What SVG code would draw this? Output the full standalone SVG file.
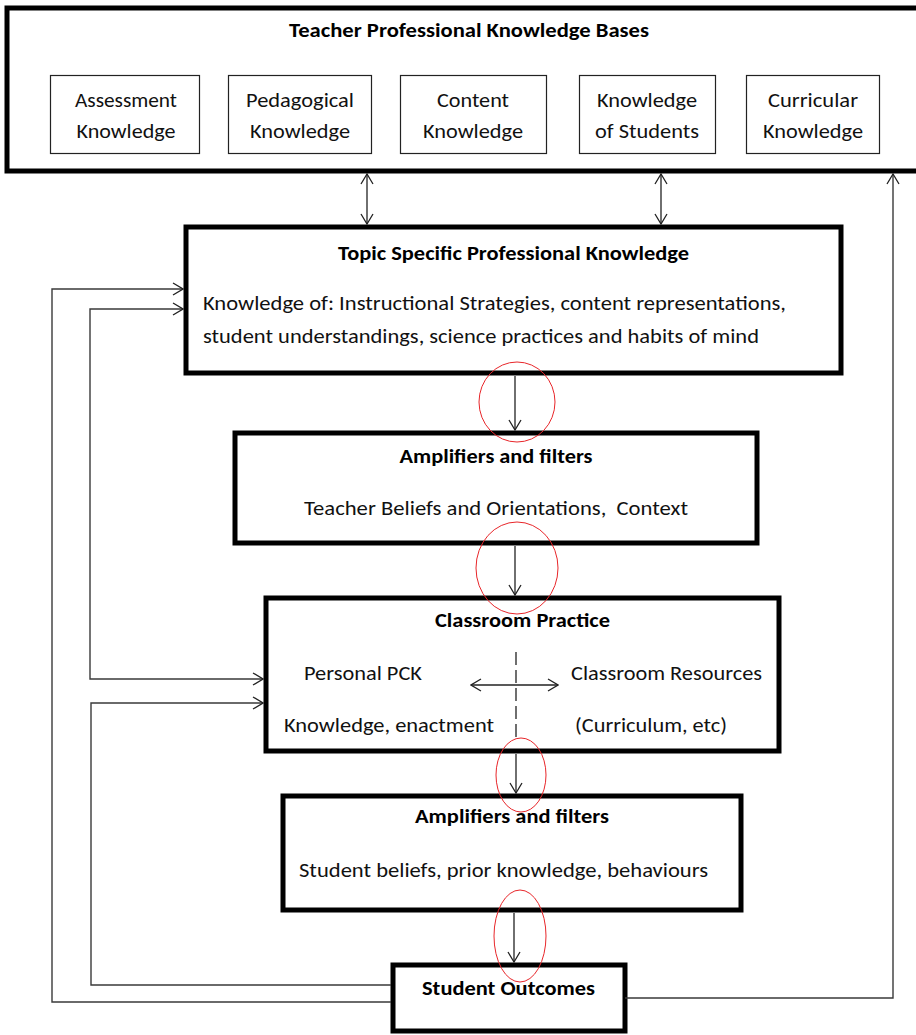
<svg xmlns="http://www.w3.org/2000/svg" width="916" height="1035" viewBox="0 0 916 1035">
<style>
text{font-family:Carlito,Lato,"Liberation Sans",sans-serif;font-size:19.5px;fill:#111;text-anchor:middle;white-space:pre}
.b{font-weight:bold;fill:#000}
.thick{fill:#fff;stroke:#000;stroke-width:5}
.thin{fill:#fff;stroke:#222;stroke-width:1.2}
.ln{fill:none;stroke:#222;stroke-width:1.3}
.fb{fill:none;stroke:#3a3a3a;stroke-width:1.4}
.red{fill:none;stroke:#e8262a;stroke-width:1}
</style>
<defs>
<marker id="arr" viewBox="0 0 12 14" refX="11" refY="7" markerWidth="12" markerHeight="14" markerUnits="userSpaceOnUse" orient="auto-start-reverse">
<path d="M1,1 L11,7 L1,13" fill="none" stroke="#222" stroke-width="1.3"/>
</marker>
</defs>
<rect width="916" height="1035" fill="#fff"/>

<g id="knowledge-bases">
<rect class="thick" x="7" y="8" width="930" height="163"/>
<text class="b" x="469" y="37" textLength="360" lengthAdjust="spacingAndGlyphs">Teacher Professional Knowledge Bases</text>
</g>
<g id="assessment">
<rect class="thin" x="50.5" y="75.5" width="149" height="78"/>
<text x="126" y="107" textLength="102" lengthAdjust="spacingAndGlyphs">Assessment</text>
<text x="126" y="138" textLength="99" lengthAdjust="spacingAndGlyphs">Knowledge</text>
</g>
<g id="pedagogical">
<rect class="thin" x="228.5" y="75.5" width="143" height="78"/>
<text x="300" y="107" textLength="108" lengthAdjust="spacingAndGlyphs">Pedagogical</text>
<text x="300" y="138" textLength="100" lengthAdjust="spacingAndGlyphs">Knowledge</text>
</g>
<g id="content">
<rect class="thin" x="400.5" y="75.5" width="146" height="78"/>
<text x="473" y="107" textLength="72" lengthAdjust="spacingAndGlyphs">Content</text>
<text x="473" y="138" textLength="100" lengthAdjust="spacingAndGlyphs">Knowledge</text>
</g>
<g id="students">
<rect class="thin" x="579.5" y="75.5" width="136" height="78"/>
<text x="647" y="107" textLength="100" lengthAdjust="spacingAndGlyphs">Knowledge</text>
<text x="647" y="138" textLength="104" lengthAdjust="spacingAndGlyphs">of Students</text>
</g>
<g id="curricular">
<rect class="thin" x="746.5" y="75.5" width="133" height="78"/>
<text x="813" y="107" textLength="90" lengthAdjust="spacingAndGlyphs">Curricular</text>
<text x="813" y="138" textLength="100" lengthAdjust="spacingAndGlyphs">Knowledge</text>
</g>

<g id="tspk">
<rect class="thick" x="186" y="227" width="655" height="146"/>
<text class="b" x="513.5" y="260" textLength="351" lengthAdjust="spacingAndGlyphs">Topic Specific Professional Knowledge</text>
<text x="203" y="310" style="text-anchor:start" textLength="583" lengthAdjust="spacingAndGlyphs">Knowledge of: Instructional Strategies, content representations,</text>
<text x="203" y="343" style="text-anchor:start" textLength="556" lengthAdjust="spacingAndGlyphs">student understandings, science practices and habits of mind</text>
</g>

<g id="amplifiers-teacher">
<rect class="thick" x="235" y="433" width="522" height="110"/>
<text class="b" x="496" y="463" textLength="193" lengthAdjust="spacingAndGlyphs">Amplifiers and filters</text>
<text x="496" y="515" textLength="384" lengthAdjust="spacingAndGlyphs">Teacher Beliefs and Orientations,  Context</text>
</g>

<g id="classroom-practice">
<rect class="thick" x="266" y="598" width="513" height="153"/>
<text class="b" x="522.5" y="627" textLength="175" lengthAdjust="spacingAndGlyphs">Classroom Practice</text>
<text x="363" y="680" textLength="118" lengthAdjust="spacingAndGlyphs">Personal PCK</text>
<text x="666.5" y="680" textLength="191" lengthAdjust="spacingAndGlyphs">Classroom Resources</text>
<text x="389" y="732" textLength="210" lengthAdjust="spacingAndGlyphs">Knowledge, enactment</text>
<text x="651" y="732" textLength="152" lengthAdjust="spacingAndGlyphs">(Curriculum, etc)</text>
<line x1="516" y1="652" x2="516" y2="742" stroke="#222" stroke-width="1.3" stroke-dasharray="13,5"/>
<line class="ln" x1="471" y1="685" x2="558" y2="685" marker-start="url(#arr)" marker-end="url(#arr)"/>
</g>

<g id="amplifiers-student">
<rect class="thick" x="283" y="796" width="458" height="114"/>
<text class="b" x="512" y="823" textLength="194" lengthAdjust="spacingAndGlyphs">Amplifiers and filters</text>
<text x="503.5" y="877" textLength="409" lengthAdjust="spacingAndGlyphs">Student beliefs, prior knowledge, behaviours</text>
</g>

<g id="student-outcomes">
<rect class="thick" x="393" y="965" width="232" height="66"/>
<text class="b" x="508.5" y="995" textLength="173" lengthAdjust="spacingAndGlyphs">Student Outcomes</text>
</g>

<g id="connectors">
<path class="ln" d="M367,174 V224" marker-start="url(#arr)" marker-end="url(#arr)"/>
<path class="ln" d="M661,174 V224" marker-start="url(#arr)" marker-end="url(#arr)"/>
<path class="fb" d="M625,998 H893 V174" marker-end="url(#arr)"/>
<path class="fb" d="M391,1002 H52 V289 H183" marker-end="url(#arr)"/>
<path class="fb" d="M183,309 H90 V679 H263" marker-start="url(#arr)" marker-end="url(#arr)"/>
<path class="fb" d="M391,985 H91 V703 H263" marker-end="url(#arr)"/>
<path class="ln" d="M515,376 V430" marker-end="url(#arr)"/>
<path class="ln" d="M515,546 V595" marker-end="url(#arr)"/>
<path class="ln" d="M516,754 V793" marker-end="url(#arr)"/>
<path class="ln" d="M514,913 V962" marker-end="url(#arr)"/>
</g>

<g id="highlights">
<ellipse class="red" cx="517" cy="402" rx="38" ry="40"/>
<ellipse class="red" cx="517" cy="568" rx="41" ry="46"/>
<ellipse class="red" cx="521" cy="775" rx="25" ry="37"/>
<ellipse class="red" cx="520" cy="936" rx="26" ry="46"/>
</g>
</svg>
